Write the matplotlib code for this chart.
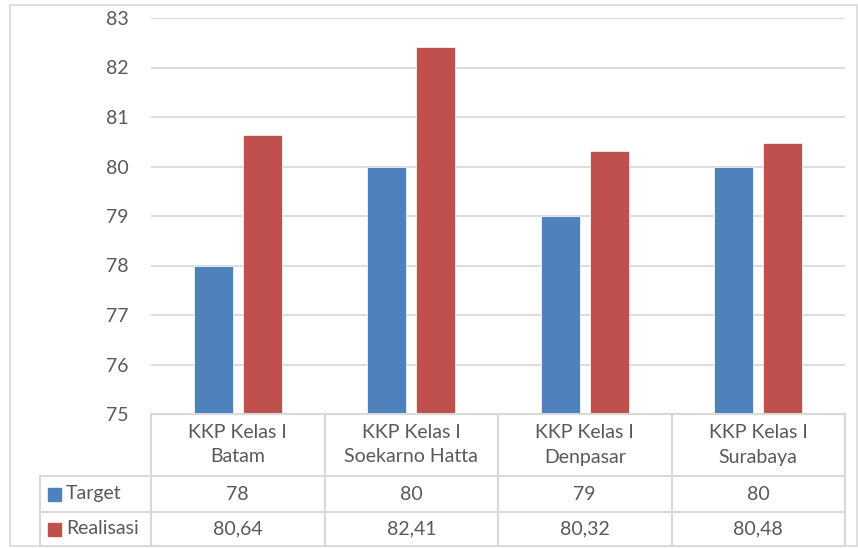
import matplotlib
matplotlib.use("Agg")
import matplotlib.pyplot as plt
import matplotlib.transforms as mtransforms
from matplotlib.lines import Line2D
from matplotlib.patches import Rectangle
import numpy as np

# Data
categories = ["KKP Kelas I\nBatam", "KKP Kelas I\nSoekarno Hatta",
              "KKP Kelas I\nDenpasar", "KKP Kelas I\nSurabaya"]
target = [78, 80, 79, 80]
realisasi = [80.64, 82.41, 80.32, 80.48]
series_names = ["Target", "Realisasi"]
y_ticks = [75, 76, 77, 78, 79, 80, 81, 82, 83]

BLUE = "#4F81BD"
RED = "#C0504D"
GRID = "#D9D9D9"
TEXT = "#595959"

plt.rcParams["font.family"] = ["Lato", "DejaVu Sans"]

W, H = 858, 548
fig = plt.figure(figsize=(W / 100, H / 100), dpi=100)


def fx(px):
    return px / W


def fy(py):
    return 1 - py / H


# Chart area border
fig.add_artist(Rectangle((fx(10), fy(546)), fx(857) - fx(10), fy(5) - fy(546),
                         transform=fig.transFigure, fill=False,
                         edgecolor=GRID, linewidth=1.2))

ax = fig.add_axes([fx(151), fy(414), fx(845) - fx(151), fy(18) - fy(414)])
x = np.arange(len(categories))
bw = 0.225
off = 0.141
ax.bar(x - off, target, width=bw, color=BLUE, edgecolor="white", linewidth=0.5,
       bottom=0, zorder=2)
ax.bar(x + off, realisasi, width=bw, color=RED, edgecolor="white", linewidth=0.5,
       bottom=0, zorder=2)
ax.set_ylim(75, 83)
ax.set_xlim(-0.5, len(categories) - 0.5)
ax.set_yticks(y_ticks)
ax.set_yticklabels([str(t) for t in y_ticks])
ax.set_xticks([])
ax.yaxis.grid(True, color=GRID, linewidth=1.3)
ax.set_axisbelow(True)
for s in ax.spines.values():
    s.set_visible(False)
ax.tick_params(axis="y", length=0, pad=16, labelsize=14, labelcolor=TEXT)

# Data table below the plot
blend = mtransforms.blended_transform_factory(ax.transData, fig.transFigure)
n = len(categories)
y_top, y_hdr, y_r1, y_r2 = fy(414), fy(476), fy(512), fy(546)

line_kw = dict(color=GRID, linewidth=1.5)
for yy in (y_hdr, y_r1, y_r2):
    fig.add_artist(Line2D([fx(40), fx(151)], [yy, yy], transform=fig.transFigure, **line_kw))
    fig.add_artist(Line2D([-0.5, n - 0.5], [yy, yy], transform=blend, **line_kw))
fig.add_artist(Line2D([-0.5, n - 0.5], [y_top, y_top], transform=blend, **line_kw))
fig.add_artist(Line2D([fx(40), fx(40)], [y_hdr, y_r2], transform=fig.transFigure, **line_kw))
for b in np.arange(n + 1) - 0.5:
    fig.add_artist(Line2D([b, b], [y_top, y_r2], transform=blend, **line_kw))

fs = 14
for i, cat in enumerate(categories):
    fig.text(i, (y_top + y_hdr) / 2, cat, transform=blend, ha="center",
             va="center", fontsize=fs, color=TEXT, linespacing=1.5)
    fig.text(i, (y_hdr + y_r1) / 2, f"{target[i]:g}".replace(".", ","),
             transform=blend, ha="center", va="center", fontsize=fs, color=TEXT)
    fig.text(i, (y_r1 + y_r2) / 2, f"{realisasi[i]:.2f}".replace(".", ","),
             transform=blend, ha="center", va="center", fontsize=fs, color=TEXT)

# Legend keys in the row headers
for name, color, (ya, yb) in zip(series_names, [BLUE, RED],
                                 [(y_hdr, y_r1), (y_r1, y_r2)]):
    yc = (ya + yb) / 2
    fig.add_artist(Rectangle((fx(48), yc - 6.5 / H), 13 / W, 13 / H,
                             transform=fig.transFigure, color=color))
    fig.text(fx(66), yc, name, ha="left", va="center", fontsize=fs, color=TEXT)

fig.savefig("out.png", dpi=100)
